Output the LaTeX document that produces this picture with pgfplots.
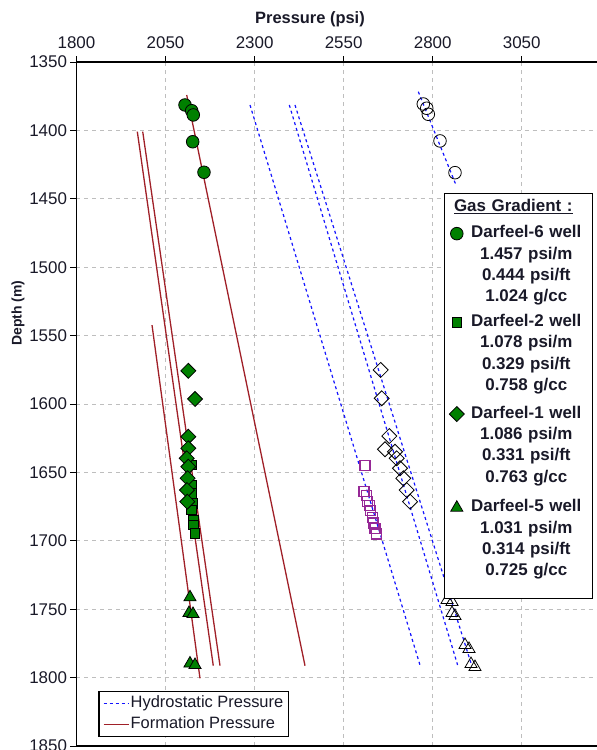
\documentclass[border=0pt]{standalone}
\usepackage{fontspec}
\setmainfont{Liberation Sans}
\usepackage{pgfplots}
\pgfplotsset{compat=1.18}

\definecolor{formred}{RGB}{160,32,40}
\definecolor{hydblue}{RGB}{20,20,255}
\definecolor{gasgreen}{RGB}{0,128,0}
\definecolor{gridgray}{RGB}{190,190,190}
\definecolor{ptpurple}{RGB}{150,40,150}
\definecolor{labelink}{RGB}{25,25,40}

\tikzset{
  gasentry/.style={text width=122bp, align=center},
  hydro/.style={color=hydblue, draw=hydblue, line width=1.2bp, dash pattern=on 3bp off 3bp},
  formation/.style={color=formred, draw=formred, line width=1.3bp},
}
\pgfplotsset{
  greenmark/.style={only marks, line width=0.8bp, mark options={fill=gasgreen, draw=black}},
  greendiamond/.style={only marks, line width=0.8bp, mark=square*, mark size=5.3bp,
    mark options={fill=gasgreen, draw=black, rotate=45}},
  openmark/.style={only marks, line width=0.8bp, mark options={draw=black, fill=none}},
}

\begin{document}
\begin{tikzpicture}[x=1bp,y=1bp]
\begin{axis}[
  at={(0,0)}, anchor=south west,
  scale only axis,
  width=534.3bp, height=684bp,
  xmin=1800, xmax=3300,
  ymin=1350, ymax=1850,
  y dir=reverse,
  xtick={1800,2050,2300,2550,2800,3050},
  ytick={1350,1400,...,1850},
  xtick pos=right, xticklabel pos=right,
  ytick pos=left,
  tick align=outside,
  major tick length=6bp,
  tick style={black, line width=1bp},
  xmajorgrids=true, ymajorgrids=true,
  grid style={draw=gridgray, dash pattern=on 4bp off 4bp, line width=1bp},
  axis line style={black, line width=1.2bp},
  /pgf/number format/.cd, 1000 sep={}, assume math mode=true, /pgfplots/.cd,
  ticklabel style={font=\fontsize{17}{20}\selectfont, text=labelink},
  xticklabel style={yshift=3.5bp},
  xlabel={Pressure (psi)},
  xlabel style={at={(axis description cs:0.437,1.063)}, anchor=center,
    font=\fontsize{16.5}{19}\bfseries\selectfont, text=labelink},
  ylabel={Depth (m)},
  ylabel style={at={(axis description cs:-0.1095,0.633)}, anchor=center,
    font=\fontsize{14}{17}\bfseries\selectfont, text=labelink},
  legend style={
    at={(0.9665,0.8085)}, anchor=north east,
    draw=black, line width=1.2bp, fill=white,
    font=\fontsize{17}{20}\bfseries\selectfont, text=labelink,
    inner xsep=4bp, inner ysep=5bp, row sep=3.8bp,
    nodes={inner sep=1bp, text height=12bp, text depth=3.5bp},
  },
]

% Gas gradient legend
\addlegendimage{empty legend}
\addlegendentry[gasentry, text depth=8.5bp]{\hspace*{-26bp}\underline{Gas Gradient :}}
\addlegendimage{greenmark, mark=*, mark size=6.3bp}
\addlegendentry[gasentry]{Darfeel-6 well}
\addlegendimage{empty legend}\addlegendentry[gasentry]{1.457 psi/m}
\addlegendimage{empty legend}\addlegendentry[gasentry]{0.444 psi/ft}
\addlegendimage{empty legend}\addlegendentry[gasentry, text depth=7bp]{1.024 g/cc}
\addlegendimage{greenmark, mark=square*, mark size=4.8bp}
\addlegendentry[gasentry]{Darfeel-2 well}
\addlegendimage{empty legend}\addlegendentry[gasentry]{1.078 psi/m}
\addlegendimage{empty legend}\addlegendentry[gasentry]{0.329 psi/ft}
\addlegendimage{empty legend}\addlegendentry[gasentry, text depth=10bp]{0.758 g/cc}
\addlegendimage{greendiamond}
\addlegendentry[gasentry]{Darfeel-1 well}
\addlegendimage{empty legend}\addlegendentry[gasentry]{1.086 psi/m}
\addlegendimage{empty legend}\addlegendentry[gasentry]{0.331 psi/ft}
\addlegendimage{empty legend}\addlegendentry[gasentry, text depth=12bp]{0.763 g/cc}
\addlegendimage{greenmark, mark=triangle*, mark size=7bp}
\addlegendentry[gasentry]{Darfeel-5 well}
\addlegendimage{empty legend}\addlegendentry[gasentry]{1.031 psi/m}
\addlegendimage{empty legend}\addlegendentry[gasentry]{0.314 psi/ft}
\addlegendimage{empty legend}\addlegendentry[gasentry, text depth=17bp]{0.725 g/cc}

% Darfeel-6 (gas points and hydrostatic equivalents)
\addplot[greenmark, mark=*, mark size=6.3bp, forget plot] coordinates {
  (2104.6,1381.4) (2123.4,1385.6) (2127.9,1388.7) (2126.2,1408.3) (2157.9,1430.6)};
\addplot[openmark, mark=o, mark size=6.3bp, forget plot] coordinates {
  (2773.6,1380.7) (2783.2,1383.8) (2787.7,1388.2) (2820.5,1407.7) (2862.6,1430.9)};

% Darfeel-2
\addplot[greenmark, mark=square*, mark size=4.8bp, forget plot] coordinates {
  (2123.4,1644.6) (2124.3,1659.2) (2123.4,1665.3) (2125.6,1672.6)
  (2123.4,1677.5) (2127.9,1684.8) (2127.9,1688.5) (2132.7,1694.5)};
\addplot[only marks, mark=square, mark size=5bp, line width=1.1bp,
  mark options={draw=ptpurple}, forget plot] coordinates {
  (2610,1645) (2607,1664) (2613,1667) (2618,1671) (2622,1674)
  (2626,1678) (2630,1683) (2634,1687) (2638,1691) (2642,1695)};

% Darfeel-1
\addplot[greendiamond, forget plot] coordinates {
  (2113.9,1575.7) (2132.7,1596.3) (2113.9,1623.9) (2114.0,1632.4) (2109.4,1639.7)
  (2113.9,1645.8) (2112.0,1654.3) (2110.0,1662.9) (2111.0,1671.4)};
\addplot[only marks, line width=0.8bp, mark=square, mark size=5.3bp,
  mark options={draw=black, rotate=45}, forget plot] coordinates {
  (2654.0,1575.1) (2656.8,1595.8) (2678.2,1623.4) (2666.1,1633.1) (2694.2,1634.9)
  (2698.9,1639.7) (2708.2,1647.0) (2717.5,1654.3) (2727.0,1662.9) (2736.3,1671.4)};

% Darfeel-5
\addplot[greenmark, mark=triangle*, mark size=7bp, forget plot] coordinates {
  (2118.6,1741.3) (2115.8,1752.8) (2127.1,1753.5) (2118.6,1789.7) (2132.7,1790.8)};
\addplot[openmark, mark=triangle, mark size=7bp, forget plot] coordinates {
  (2840.2,1743.3) (2854.2,1744.7) (2854.2,1752.8) (2862.6,1755.0)
  (2890.7,1776.2) (2901.9,1779.1) (2907.5,1790.1) (2918.7,1792.3)};

% Formation pressure lines
\addplot[formation, forget plot] coordinates {(2109.4,1374.1) (2441.5,1791.3)};
\addplot[formation, forget plot] coordinates {(1970.7,1400.9) (2184.0,1791.3)};
\addplot[formation, forget plot] coordinates {(1985.9,1400.9) (2202.9,1791.3)};
\addplot[formation, forget plot] coordinates {(2012.0,1542.3) (2146.7,1800.5)};

% Hydrostatic pressure lines
\addplot[hydro, forget plot] coordinates {(2287.1,1381.4) (2764.3,1790.8)};
\addplot[hydro, forget plot] coordinates {(2397.4,1381.4) (2869.9,1790.8)};
\addplot[hydro, forget plot] coordinates {(2413.4,1381.4) (2909.2,1790.8)};
\addplot[hydro, forget plot] coordinates {(2759.6,1371.7) (2865.4,1439.9)};
\end{axis}

% Line legend
\begin{axis}[
  at={(0,0)}, anchor=south west,
  scale only axis,
  width=534.3bp, height=684bp,
  xmin=1800, xmax=3300, ymin=1350, ymax=1850,
  hide axis,
  legend image code/.code={\draw[#1] (0bp,0bp) -- (25bp,0bp);},
  legend cell align=left,
  legend style={
    at={(0.0408,0.0127)}, anchor=south west,
    draw=black, line width=1.2bp, fill=white,
    font=\fontsize{16.5}{19}\selectfont, text=labelink,
    inner xsep=4bp, inner ysep=3bp, row sep=1.5bp,
    nodes={inner sep=1.5bp, text height=12bp, text depth=4bp},
  },
]
\addlegendimage{hydro}
\addlegendentry{Hydrostatic Pressure}
\addlegendimage{formation}
\addlegendentry{Formation Pressure}
\end{axis}

\pgfresetboundingbox
\useasboundingbox (-76.5bp,-4bp) rectangle (520.5bp,746bp);
\end{tikzpicture}
\end{document}
